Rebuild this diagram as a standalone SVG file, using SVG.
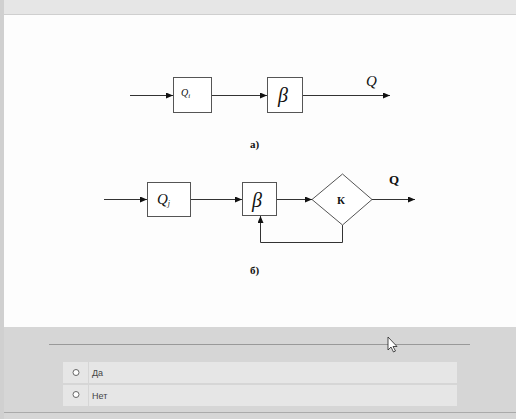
<svg xmlns="http://www.w3.org/2000/svg" width="516" height="419" viewBox="0 0 516 419">
<style>
.box{fill:#fff;stroke:#555;stroke-width:1}
.ln{fill:none;stroke:#333;stroke-width:1}
.it{font-family:"Liberation Serif",serif;font-style:italic;fill:#111}
.bd{font-family:"Liberation Serif",serif;font-weight:bold;fill:#111}
.ui{font-family:"Liberation Sans","DejaVu Sans",sans-serif;font-size:9px;fill:#444}
</style>
<defs>
<marker id="ah" markerWidth="7" markerHeight="6" refX="7" refY="3" orient="auto" markerUnits="userSpaceOnUse">
<path d="M0,0 L7,3 L0,6 Z" fill="#111"/>
</marker>
</defs>
<rect x="0" y="0" width="516" height="419" fill="#d6d6d6"/>
<rect x="0" y="0" width="516" height="14" fill="#e6e6e6"/>
<rect x="0" y="0" width="4" height="419" fill="#d0d0d0"/>
<rect x="4" y="15" width="512" height="312" fill="#fdfdfd"/>
<line x1="4" y1="14.5" x2="516" y2="14.5" stroke="#cfcfcf"/>
<line x1="49" y1="344.5" x2="470" y2="344.5" stroke="#999" stroke-width="1.2"/>
<rect x="63" y="362" width="394" height="21" fill="#e6e6e6"/>
<rect x="63" y="385" width="394" height="21" fill="#e6e6e6"/>
<line x1="88.5" y1="362" x2="88.5" y2="406" stroke="#d6d6d6"/>
<circle cx="76" cy="372.5" r="3" fill="#fff" stroke="#666"/>
<circle cx="76" cy="394.5" r="3" fill="#fff" stroke="#666"/>
<text class="ui" x="92" y="376">Да</text>
<text class="ui" x="92" y="399">Нет</text>
<line x1="4" y1="412.5" x2="516" y2="412.5" stroke="#aaa"/>
<path d="M388,337 L388,350 L391,347 L393.5,352 L395.5,351 L393,346.5 L397,346.5 Z" fill="#fff" stroke="#222" stroke-width="0.8"/>

<g id="connectors">
<line class="ln" x1="130" y1="95.5" x2="173" y2="95.5" marker-end="url(#ah)"/>
<line class="ln" x1="212" y1="95.5" x2="267" y2="95.5" marker-end="url(#ah)"/>
<line class="ln" x1="303" y1="95.5" x2="390" y2="95.5" marker-end="url(#ah)"/>
<line class="ln" x1="104" y1="199.5" x2="147" y2="199.5" marker-end="url(#ah)"/>
<line class="ln" x1="191" y1="199.5" x2="242" y2="199.5" marker-end="url(#ah)"/>
<line class="ln" x1="277" y1="199.5" x2="312" y2="199.5" marker-end="url(#ah)"/>
<line class="ln" x1="372" y1="199.5" x2="415" y2="199.5" marker-end="url(#ah)"/>
<polyline class="ln" points="342.5,225 342.5,242.5 260.5,242.5 260.5,216" marker-end="url(#ah)"/>
</g>

<g id="a-qi">
<rect class="box" x="173.5" y="77.5" width="38" height="35"/>
<text class="it" x="181" y="96" font-size="10">Q<tspan font-size="7" dy="2">i</tspan></text>
</g>
<g id="a-beta">
<rect class="box" x="267.5" y="77.5" width="35" height="35"/>
<text class="it" x="278" y="102" font-size="20">β</text>
</g>
<text id="a-q" class="it" x="366" y="86" font-size="15">Q</text>
<text id="label-a" class="bd" x="250" y="148" font-size="11">а)</text>

<g id="b-qj">
<rect class="box" x="147.5" y="182.5" width="43" height="34"/>
<text class="it" x="157" y="204" font-size="15">Q<tspan font-size="8" dy="2">j</tspan></text>
</g>
<g id="b-beta">
<rect class="box" x="242.5" y="182.5" width="34" height="33"/>
<text class="it" x="252" y="207" font-size="20">β</text>
</g>
<g id="b-k">
<polygon class="box" points="342.5,174 372,199.5 342.5,225 312,199.5"/>
<text class="bd" x="337" y="204" font-size="11">К</text>
</g>
<text id="b-q" class="bd" x="389" y="184" font-size="13">Q</text>
<text id="label-b" class="bd" x="250" y="274" font-size="11">б)</text>
</svg>
